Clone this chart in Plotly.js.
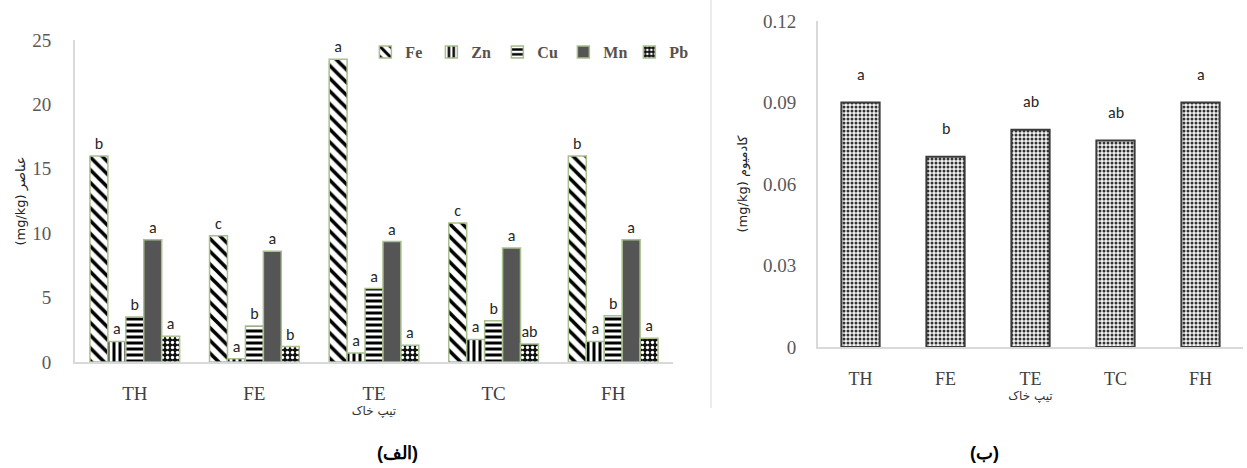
<!DOCTYPE html>
<html>
<head>
<meta charset="utf-8">
<script src="https://cdn.plot.ly/plotly-3.0.1.min.js"></script>
<style>html,body{margin:0;padding:0;background:#fff;}#chart{width:1247px;height:468px;}</style>
</head>
<body>
<div id="chart"></div>
<script>
// ---- data ----
const categories = ['TH', 'FE', 'TE', 'TC', 'FH'];
const feValues = [16.0, 9.8, 23.5, 10.8, 16.0];
const znValues = [1.6, 0.25, 0.7, 1.75, 1.6];
const cuValues = [3.5, 2.8, 5.7, 3.2, 3.6];
const mnValues = [9.5, 8.6, 9.35, 8.85, 9.5];
const pbValues = [2.0, 1.2, 1.3, 1.4, 1.85];
const feLetters = ['b', 'c', 'a', 'c', 'b'];
const znLetters = ['a', 'a', 'a', 'a', 'a'];
const cuLetters = ['b', 'b', 'a', 'b', 'b'];
const mnLetters = ['a', 'a', 'a', 'a', 'a'];
const pbLetters = ['a', 'b', 'a', 'ab', 'a'];
const cdValues = [0.09, 0.07, 0.08, 0.076, 0.09];
const cdLetters = ['a', 'b', 'ab', 'ab', 'a'];
const leftTicks = [0, 5, 10, 15, 20, 25];
const rightTicks = [0, 0.03, 0.06, 0.09, 0.12];
const rightTickText = ['0', '0.03', '0.06', '0.09', '0.12'];

const green = '#a7c08c';
const serif = 'Liberation Serif, Times New Roman, serif';
const sans = 'Liberation Sans, Arial, sans-serif';
const tickColor = '#595959';
const letterFont = {family: 'Carlito, Lato, sans-serif', size: 16, color: '#262626'};

function elemTrace(name, vals, letters, pattern, color) {
  return {
    type: 'bar', name: name, x: categories, y: vals, xaxis: 'x', yaxis: 'y',
    text: letters, textposition: 'outside', textfont: letterFont, cliponaxis: false,
    marker: {color: color, line: {color: green, width: 1.5}, pattern: pattern}
  };
}

const traces = [
  elemTrace('Fe', feValues, feLetters, {shape: '\\', fgcolor: '#000', bgcolor: '#fff', size: 9, solidity: 0.4}, '#fff'),
  elemTrace('Zn', znValues, znLetters, {shape: '|', fgcolor: '#000', bgcolor: '#fff', size: 6, solidity: 0.5}, '#fff'),
  elemTrace('Cu', cuValues, cuLetters, {shape: '-', fgcolor: '#000', bgcolor: '#fff', size: 6, solidity: 0.5}, '#fff'),
  elemTrace('Mn', mnValues, mnLetters, undefined, '#555555'),
  elemTrace('Pb', pbValues, pbLetters, {shape: '.', fgcolor: '#fff', bgcolor: '#111', size: 5, solidity: 0.35}, '#111'),
  {
    type: 'bar', name: 'Cd', x: categories, y: cdValues, xaxis: 'x2', yaxis: 'y2',
    width: 0.45, showlegend: false,
    marker: {color: '#eee', line: {color: '#3a3a3a', width: 2},
             pattern: {shape: '.', fgcolor: '#333', bgcolor: '#f2f2f2', size: 4, solidity: 0.45}}
  }
];

const annotations = categories.map((c, i) => ({
  xref: 'x2', yref: 'y2', x: c, y: cdValues[i], yshift: 28, yanchor: 'middle',
  text: cdLetters[i], showarrow: false, font: letterFont
}));
annotations.push(
  {xref: 'paper', yref: 'paper', x: 375 / 1247, y: 1 - 453 / 468, yanchor: 'middle', text: '(الف)', showarrow: false,
   font: {family: sans, size: 18, color: '#000', weight: 'bold'}},
  {xref: 'paper', yref: 'paper', x: 1001 / 1247, y: 1 - 453 / 468, yanchor: 'middle', text: '(ب)', showarrow: false,
   font: {family: sans, size: 18, color: '#000', weight: 'bold'}}
);

const layout = {
  width: 1247, height: 468,
  margin: {l: 0, r: 0, t: 0, b: 0},
  paper_bgcolor: '#fff', plot_bgcolor: '#fff',
  barmode: 'group', bargap: 0.25, bargroupgap: 0,
  showlegend: true,
  legend: {orientation: 'h', x: 0.293, xanchor: 'left', y: 1 - 52 / 468, yanchor: 'middle',
           font: {family: serif, size: 16, color: '#5a5048', weight: 'bold'},
           itemwidth: 30, entrywidth: 21, entrywidthmode: 'pixels',
           traceorder: 'normal', bgcolor: 'rgba(0,0,0,0)'},
  xaxis: {domain: [75 / 1247, 673 / 1247], anchor: 'y', type: 'category',
          showline: true, linecolor: '#d9d9d9', linewidth: 2, ticks: '', showgrid: false,
          tickfont: {family: serif, size: 19, color: '#404040'}, ticklabelstandoff: 13,
          title: {text: 'تیپ خاک', font: {family: 'DejaVu Sans, sans-serif', size: 12, color: '#333'}, standoff: 0}},
  yaxis: {domain: [1 - 362 / 468, 1 - 40 / 468], anchor: 'x', range: [0, 25],
          tickvals: leftTicks, showline: true, linecolor: '#d9d9d9', linewidth: 2, showgrid: false,
          zeroline: false, ticks: '', tickfont: {family: serif, size: 19, color: tickColor},
          ticklabelstandoff: 18,
          title: {text: '(mg/kg) عناصر', font: {family: 'DejaVu Sans, sans-serif', size: 13, color: '#222'}, standoff: 4}},
  xaxis2: {domain: [818 / 1247, 1243 / 1247], anchor: 'y2', type: 'category',
           showline: true, linecolor: '#d9d9d9', linewidth: 2, ticks: '', showgrid: false,
           tickfont: {family: serif, size: 18, color: '#404040'}, ticklabelstandoff: 14,
           title: {text: 'تیپ خاک', font: {family: 'DejaVu Sans, sans-serif', size: 12, color: '#333'}, standoff: 2}},
  yaxis2: {domain: [1 - 347 / 468, 1 - 21 / 468], anchor: 'x2', range: [0, 0.12],
           tickvals: rightTicks, ticktext: rightTickText, showline: true, linecolor: '#d9d9d9', linewidth: 2,
           showgrid: false, zeroline: false, ticks: '',
           tickfont: {family: serif, size: 19, color: tickColor}, ticklabelstandoff: 16,
           title: {text: '(mg/kg) کادمیوم', font: {family: 'DejaVu Sans, sans-serif', size: 13, color: '#222'}, standoff: 12}},
  annotations: annotations,
  shapes: [
    {type: 'line', xref: 'paper', yref: 'paper', x0: 711 / 1247, x1: 711 / 1247, y0: 1 - 408 / 468, y1: 1,
     line: {color: '#d9d9d9', width: 1}}
  ]
};

Plotly.newPlot('chart', traces, layout, {displayModeBar: false, staticPlot: true});
</script>
</body>
</html>
